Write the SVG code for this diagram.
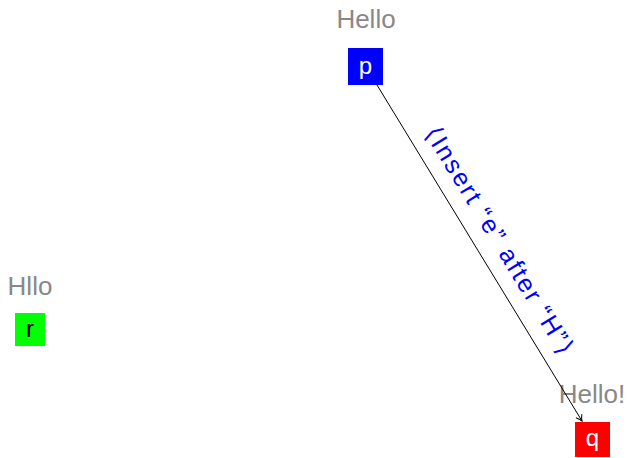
<svg xmlns="http://www.w3.org/2000/svg" width="628" height="458" viewBox="0 0 628 458">
<style>
.lbl{font-family:"Liberation Sans",Arial,sans-serif;font-size:26px;fill:#888888;text-anchor:middle}
.nt{font-family:"Liberation Sans",Arial,sans-serif;font-size:24px;text-anchor:middle}
.edge{stroke:#000;stroke-width:1;fill:none}
.elbl{font-family:"Liberation Sans",Arial,sans-serif;font-size:25px;fill:#0000ff;text-anchor:middle}
</style>
<defs>
<marker id="arr" markerWidth="10" markerHeight="10" refX="8" refY="5" orient="auto" markerUnits="userSpaceOnUse">
<path d="M2,1.5 Q5,4 8,5 Q5,6 2,8.5" fill="none" stroke="#000" stroke-width="1"/>
</marker>
</defs>
<g id="p">
<text class="lbl" x="366" y="28">Hello</text>
<rect x="348" y="48" width="35" height="37" fill="#0000ff"/>
<text class="nt" x="365.5" y="74" fill="#fff">p</text>
</g>
<g id="r">
<text class="lbl" x="30" y="295">Hllo</text>
<rect x="15" y="313" width="30" height="33" fill="#00ff00"/>
<text class="nt" x="30" y="337" fill="#000">r</text>
</g>
<g id="q">
<text class="lbl" x="592" y="403">Hello!</text>
<rect x="575" y="422" width="35" height="35" fill="#ff0000"/>
<text class="nt" x="592.5" y="446" fill="#fff">q</text>
</g>
<g id="edges">
<line class="edge" x1="377" y1="85" x2="582" y2="421" marker-end="url(#arr)"/>
<text class="elbl" x="500" y="240" dominant-baseline="central" textLength="262" lengthAdjust="spacing" transform="rotate(58.6 500 240)">⟨Insert “e” after “H”⟩</text>
</g>
</svg>
